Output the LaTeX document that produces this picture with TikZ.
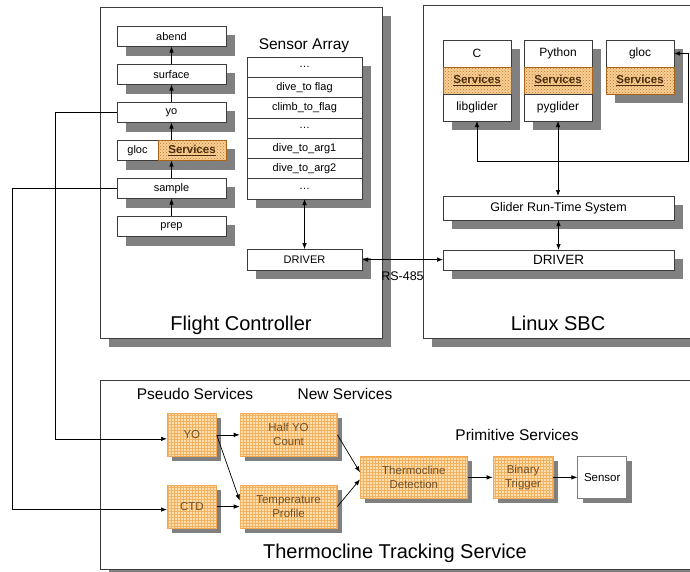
\documentclass[tikz,border=0pt]{standalone}
\usepackage{fontspec}
\setmainfont{Liberation Sans}
\usetikzlibrary{positioning, arrows.meta, shadows, patterns}
\definecolor{boxline}{HTML}{3C3C3C}
\definecolor{shade}{HTML}{808080}
\definecolor{peach}{HTML}{FFE0B2}
\definecolor{peachgrid}{HTML}{F5B25E}
\definecolor{peachline}{HTML}{EFA24A}
\definecolor{peachtext}{HTML}{6E5028}
\definecolor{srvfill}{HTML}{FAD096}
\definecolor{srvdots}{HTML}{B8782C}
\definecolor{srvline}{HTML}{A86418}
\definecolor{srvtext}{HTML}{4A2C0C}
\tikzset{
>={Latex[length=6pt,width=4.5pt]}, % small filled arrow heads
bigshadow/.style={drop shadow={shadow xshift=9pt, shadow yshift=-9pt, opacity=1, fill=shade}}, % grey offset block
smallshadow/.style={drop shadow={shadow xshift=5pt, shadow yshift=-5pt, opacity=1, fill=shade}}, % smaller offset block
panel/.style={draw=boxline, fill=white, bigshadow, inner sep=0pt}, % the three big frames
unit/.style={draw=boxline, fill=white, bigshadow, inner sep=0pt, outer sep=0pt, minimum width=109pt, minimum height=20.5pt, font=\fontsize{11}{13}\selectfont}, % mission stack
cell/.style={unit, minimum width=115pt, minimum height=20.3pt}, % sensor array rows
lang/.style={unit, minimum width=68pt, minimum height=27pt, font=\fontsize{12}{14}\selectfont}, % language bindings
srv/.style={draw=srvline, fill=srvfill, bigshadow, postaction={pattern=crosshatch dots, pattern color=srvdots}, inner sep=0pt, outer sep=0pt, text=srvtext, font=\fontsize{11.5}{14}\selectfont\bfseries}, % Services cells
wide/.style={unit, minimum width=231pt, font=\fontsize{12.5}{15}\selectfont}, % run-time system, driver
tbox/.style={draw=peachline, fill=peach, smallshadow, postaction={pattern=grid, pattern color=peachgrid}, inner sep=0pt, minimum width=49pt, minimum height=43pt, align=center, text=peachtext, font=\fontsize{11.5}{14}\selectfont}, % tracking services
heading/.style={anchor=base, inner sep=0pt, font=\fontsize{15.5}{18}\selectfont}, % group headings
caption/.style={anchor=base, inner sep=0pt, font=\fontsize{20}{24}\selectfont}, % panel names
}
\begin{document}
\begin{tikzpicture}[x=1pt, y=-1pt, line width=0.7pt]
\useasboundingbox (0,0) rectangle (690,571);
\clip (0,0) rectangle (690,571);
\node[panel, minimum width=282pt, minimum height=331pt, anchor=north west] (fc) at (100,7) {};
\node[panel, minimum width=271pt, minimum height=333pt, anchor=north west] (sbc) at (423,5) {};
\node[panel, minimum width=600pt, minimum height=189pt, anchor=north west] (tts) at (100,380) {};
\node[caption] (fctitle) at (241,330) {Flight Controller};
\node[caption] (sbctitle) at (558,330) {Linux SBC};
\node[caption] (ttstitle) at (395,558) {Thermocline Tracking Service};

\node[unit, anchor=north west] (abend) at (117,26) {abend};
\node[unit, below=17.5pt of abend] (surface) {surface};
\node[unit, below=17.5pt of surface] (yo) {yo};
\node[unit, minimum width=41pt, below=17.5pt of yo.south west, anchor=north west] (gloc) {gloc};
\node[srv, minimum width=68pt, minimum height=20.5pt, right=0pt of gloc] (glocsrv) {\underline{Services}};
\node[unit, below=17.5pt of gloc.south west, anchor=north west] (sample) {sample};
\node[unit, below=17.5pt of sample] (prep) {prep};
\draw[->] (prep) -- (sample);
\draw[->] (sample) -- (sample.north |- gloc.south);
\draw[->] (yo.south |- gloc.north) -- (yo);
\draw[->] (yo) -- (surface);
\draw[->] (surface) -- (abend);

\node[heading] (sahead) at (304,49) {Sensor Array};
\node[cell, anchor=north west] (s1) at (247,57) {\ldots};
\node[cell, below=0pt of s1] (s2) {dive\_to flag};
\node[cell, below=0pt of s2] (s3) {climb\_to\_flag};
\node[cell, below=0pt of s3] (s4) {\ldots};
\node[cell, below=0pt of s4] (s5) {dive\_to\_arg1};
\node[cell, below=0pt of s5] (s6) {dive\_to\_arg2};
\node[cell, below=0pt of s6] (s7) {\ldots};
\node[cell, minimum height=21pt, below=50pt of s7] (fcdrv) {DRIVER};
\draw[<->] (s7) -- (fcdrv);

\node[lang, anchor=north west] (c) at (443,40) {C};
\node[srv, minimum width=68pt, minimum height=27pt, below=0pt of c] (csrv) {\underline{Services}};
\node[lang, below=0pt of csrv] (libg) {libglider};
\node[lang, right=13pt of c] (py) {Python};
\node[srv, minimum width=68pt, minimum height=27pt, below=0pt of py] (pysrv) {\underline{Services}};
\node[lang, below=0pt of pysrv] (pyg) {pyglider};
\node[lang, right=14pt of py] (glocsbc) {gloc};
\node[srv, minimum width=68pt, minimum height=27pt, below=0pt of glocsbc] (glocsbcsrv) {\underline{Services}};
\node[wide, minimum height=24pt, anchor=north west] (rts) at (443,196) {Glider Run-Time System};
\node[wide, minimum height=20pt, below=30pt of rts, font=\fontsize{13.5}{16}\selectfont] (sbcdrv) {DRIVER};
\coordinate (bus) at (688,161);
\draw[<->] (libg.south) |- (bus) |- (glocsbc.east);
\draw[<->] (pyg.south) -- (pyg.south |- rts.north);
\draw[<->] (rts) -- (sbcdrv);
\draw[<->] (fcdrv.east) -- node[below=12pt, inner sep=0pt, font=\fontsize{12.5}{15}\selectfont] (rs) {RS-485} (fcdrv.east -| sbcdrv.west);

\node[heading] (pseudo) at (195,399) {Pseudo Services};
\node[heading] (newsrv) at (345,399) {New Services};
\node[heading] (prim) at (517,440) {Primitive Services};
\node[tbox, anchor=north west] (pyo) at (167,413) {YO};
\node[tbox, below=28pt of pyo] (ctd) {CTD};
\node[tbox, minimum width=97pt, right=23pt of pyo] (half) {Half YO\\Count};
\node[tbox, minimum width=97pt, right=23pt of ctd] (temp) {Temperature\\Profile};
\node[tbox, minimum width=107pt, minimum height=42pt, anchor=north west] (td) at (360,456) {Thermocline\\Detection};
\node[tbox, minimum width=60pt, minimum height=42pt, right=25pt of td] (bt) {Binary\\Trigger};
\node[draw=gray, fill=white, smallshadow, inner sep=0pt, minimum width=49pt, minimum height=42pt, right=24pt of bt, font=\fontsize{11.5}{14}\selectfont] (sensor) {Sensor};
\draw[->] (yo.west) -- ++(-62,0) |- ([yshift=-4pt]pyo.west);
\draw[->] (sample.west) -- ++(-105,0) |- ([yshift=-3pt]ctd.west);
\draw[->] (pyo) -- (half);
\draw[->] (pyo.east) -- ([yshift=6pt]temp.west);
\draw[->] (ctd) -- (temp);
\draw[->] (half.east) -- ([yshift=5pt]td.west);
\draw[->] (temp.east) -- ([yshift=-2pt]td.west);
\draw[->] (td) -- (bt);
\draw[->] (bt) -- (sensor);
\end{tikzpicture}
\end{document}
